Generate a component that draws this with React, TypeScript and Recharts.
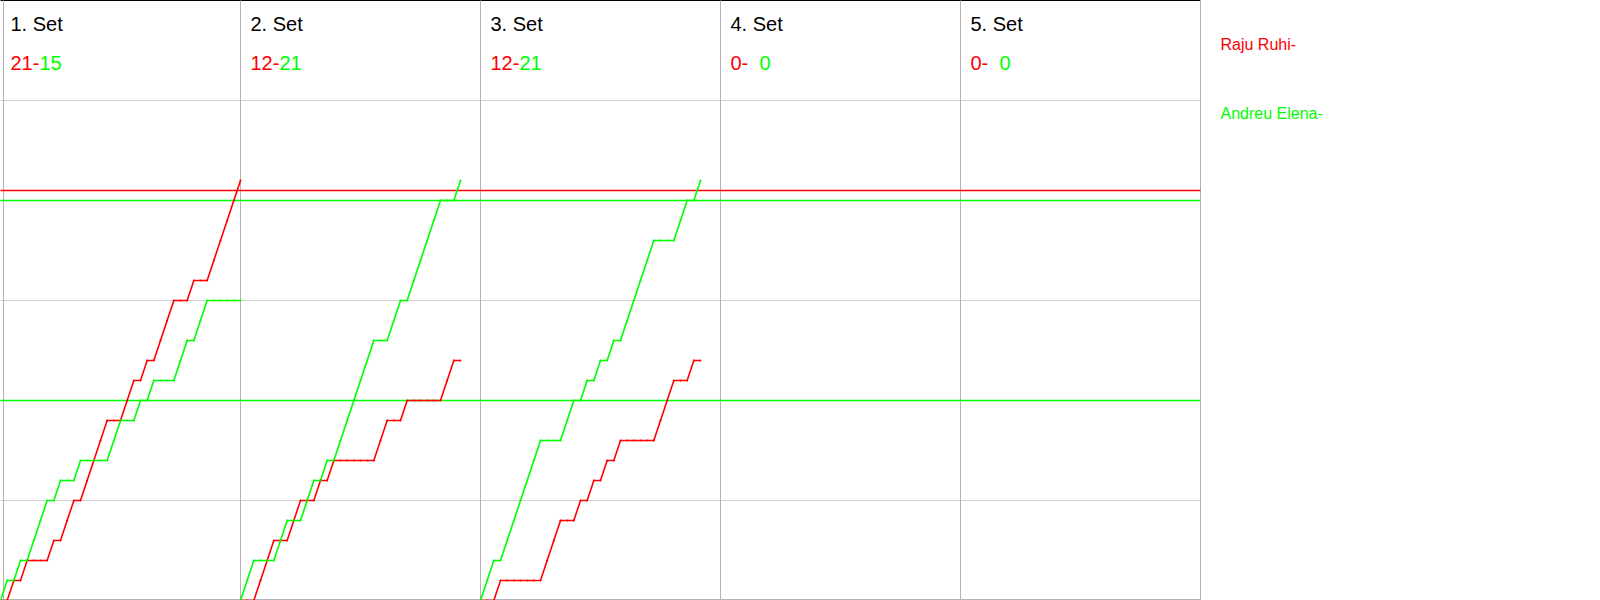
import React from 'react';
import { LineChart, Line, XAxis, YAxis, ReferenceLine } from 'recharts';

// ---- data ----
const players = ['Raju Ruhi', 'Andreu Elena'];
const playerColors = ['#ff0000', '#00ff00'];
const setLabels = ['1. Set', '2. Set', '3. Set', '4. Set', '5. Set'];
const setScoresRed = [21, 12, 12, 0, 0];
const setScoresGreen = [15, 21, 21, 0, 0];

// rally winners per set: 'R' = Raju Ruhi, 'G' = Andreu Elena
const set1Winners = ['G','R','G','R','G','G','G','R','G','R','R','G','R','R','R','R','G','G','R','R','G','R','G','R','R','R','G','G','R','G','G','R','R','R','R','R'];
const set2Winners = ['G','G','R','R','R','G','G','R','R','G','G','R','G','R','G','G','G','G','G','G','R','R','G','G','R','G','G','G','G','G','R','R','G'];
const set3Winners = ['G','G','R','G','G','G','G','G','G','R','R','R','G','G','R','G','R','G','R','G','R','G','G','G','G','G','R','R','R','G','G','R','G'];
const set4Winners: string[] = [];
const set5Winners: string[] = [];
const allSets = [set1Winners, set2Winners, set3Winners, set4Winners, set5Winners];

const ralliesPerPanel = 36;
const yMax = 30; // score axis incl. header band
const gridScores = [5, 10, 15, 20, 25];
const redMarkScores = [20.5];
const greenMarkScores = [20, 10];

type Pt = { x: number; y: number };

function buildSeries(winners: string[], offset: number, who: string): Pt[] {
  if (winners.length === 0) return [];
  const pts: Pt[] = [{ x: offset, y: 0 }];
  let s = 0;
  winners.forEach((w, i) => {
    if (w === who) s += 1;
    pts.push({ x: offset + i + 1, y: s });
  });
  return pts;
}

const redSeries = allSets.map((w, i) => buildSeries(w, i * ralliesPerPanel, 'R'));
const greenSeries = allSets.map((w, i) => buildSeries(w, i * ralliesPerPanel, 'G'));

const FONT = '"Liberation Sans", Arial, sans-serif';

const headerLabel = (i: number) => (props: any) => {
  const vb = props.viewBox || {};
  const x = vb.x ?? 0;
  const y0 = vb.y ?? 0;
  const top = Math.min(y0, y0 + (vb.height ?? 0));
  return (
    <g fontFamily={FONT} fontSize={20}>
      <text x={x + 10} y={top + 30} fill="#000000">{setLabels[i]}</text>
      <text x={x + 10} y={top + 69.5} fill={playerColors[0]}>{`${setScoresRed[i]}-`}</text>
      <text x={x + 39} y={top + 69.5} fill={playerColors[1]}>{`${setScoresGreen[i]}`}</text>
    </g>
  );
};

const legendLabel = (props: any) => {
  const vb = props.viewBox || {};
  const x = vb.x ?? 0;
  const y0 = vb.y ?? 0;
  const top = Math.min(y0, y0 + (vb.height ?? 0));
  return (
    <g fontFamily={FONT} fontSize={16}>
      <text x={x + 20} y={top + 49.5} fill={playerColors[0]}>{`${players[0]}-`}</text>
      <text x={x + 20} y={top + 118.5} fill={playerColors[1]}>{`${players[1]}-`}</text>
    </g>
  );
};

export default function App() {
  const totalX = ralliesPerPanel * 5;
  const panelStarts = [0, 1, 2, 3, 4].map((i) => i * ralliesPerPanel);
  const panelBorders = [1, 2, 3, 4].map((i) => i * ralliesPerPanel);
  return (
    <div style={{ position: 'absolute', left: 0, top: 0, width: 1600, height: 600, background: '#ffffff', overflow: 'hidden' }}>
      <LineChart
        width={1600}
        height={601}
        margin={{ top: 0.5, right: 399.5, bottom: 0.5, left: 0.5 }}
      >
        <XAxis type="number" dataKey="x" domain={[0, totalX]} hide allowDataOverflow />
        <YAxis type="number" dataKey="y" domain={[0, yMax]} hide allowDataOverflow />

        {gridScores.map((v) => (
          <ReferenceLine key={`gy${v}`} y={v} stroke="#d2d2d2" strokeWidth={1} />
        ))}
        <ReferenceLine y={0.05} stroke="#b4b4b4" strokeWidth={1} />
        <ReferenceLine y={yMax} stroke="#000000" strokeWidth={1} />

        {panelStarts.map((v, i) => (
          <ReferenceLine key={`hd${i}`} x={v} stroke="none" strokeOpacity={0} label={headerLabel(i)} />
        ))}
        <ReferenceLine x={0.45} stroke="#b4b4b4" strokeWidth={1} />
        {panelBorders.map((v) => (
          <ReferenceLine key={`vb${v}`} x={v} stroke="#b4b4b4" strokeWidth={1} />
        ))}
        <ReferenceLine x={totalX} stroke="#b4b4b4" strokeWidth={1} label={legendLabel} />

        {redMarkScores.map((v) => (
          <ReferenceLine key={`rm${v}`} y={v} stroke={playerColors[0]} strokeWidth={1.5} />
        ))}
        {greenMarkScores.map((v) => (
          <ReferenceLine key={`gm${v}`} y={v} stroke={playerColors[1]} strokeWidth={1.5} />
        ))}

        {redSeries.map((d, i) =>
          d.length ? (
            <Line
              key={`r${i}`}
              data={d}
              dataKey="y"
              type="linear"
              stroke={playerColors[0]}
              strokeWidth={1.6}
              dot={{ r: 1, fill: playerColors[0], stroke: 'none' }}
              activeDot={false}
              isAnimationActive={false}
            />
          ) : null
        )}
        {greenSeries.map((d, i) =>
          d.length ? (
            <Line
              key={`g${i}`}
              data={d}
              dataKey="y"
              type="linear"
              stroke={playerColors[1]}
              strokeWidth={1.6}
              dot={{ r: 1, fill: playerColors[1], stroke: 'none' }}
              activeDot={false}
              isAnimationActive={false}
            />
          ) : null
        )}
      </LineChart>
    </div>
  );
}
